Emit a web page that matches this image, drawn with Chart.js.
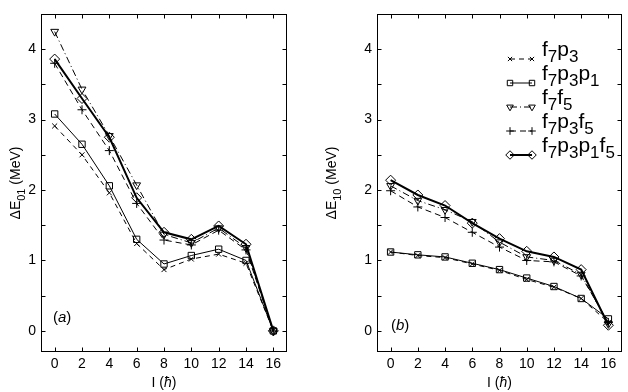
<!DOCTYPE html>
<html lang="en">
<head>
<meta charset="UTF-8">
<title>Delta E vs I</title>
<style>
  body { margin: 0; background: #fff; }
  #wrap { position: relative; width: 628px; height: 392px; }
  #chartA { position: absolute; left: 0; top: 0; }
  #chartB { position: absolute; left: 300px; top: 0; }
</style>
</head>
<body>
<div id="wrap">
  <canvas id="chartA" width="300" height="392"></canvas>
  <canvas id="chartB" width="328" height="392"></canvas>
</div>
<script src="https://cdn.jsdelivr.net/npm/chart.js"></script>
<script>
// spin I (hbar) on the x axis
const spins = [0, 2, 4, 6, 8, 10, 12, 14, 16];
const xTicks = [0, 2, 4, 6, 8, 10, 12, 14, 16];
const yTicks = [0, 0.5, 1, 1.5, 2, 2.5, 3, 3.5, 4];

// legend labels, "_" marks the next char as subscript
const seriesNames = ['f_7p_3', 'f_7p_3p_1', 'f_7f_5', 'f_7p_3f_5', 'f_7p_3p_1f_5'];

// panel (a): Delta E01
const aF7p3     = [2.91, 2.50, 1.96, 1.24, 0.87, 1.02, 1.09, 0.96, 0.00];
const aF7p3p1   = [3.08, 2.65, 2.06, 1.30, 0.95, 1.07, 1.16, 1.00, 0.00];
const aF7f5     = [4.25, 3.43, 2.77, 2.07, 1.37, 1.25, 1.46, 1.18, 0.00];
const aF7p3f5   = [3.80, 3.14, 2.56, 1.81, 1.29, 1.22, 1.43, 1.15, 0.00];
const aF7p3p1f5 = [3.86, 3.30, 2.75, 1.89, 1.40, 1.30, 1.49, 1.23, 0.00];

// panel (b): Delta E10
const bF7p3     = [1.12, 1.07, 1.04, 0.95, 0.86, 0.73, 0.62, 0.46, 0.12];
const bF7p3p1   = [1.12, 1.08, 1.05, 0.96, 0.87, 0.75, 0.63, 0.46, 0.17];
const bF7f5     = [2.06, 1.85, 1.72, 1.55, 1.26, 1.05, 1.00, 0.80, 0.10];
const bF7p3f5   = [1.99, 1.76, 1.61, 1.40, 1.19, 1.00, 0.98, 0.78, 0.12];
const bF7p3p1f5 = [2.14, 1.93, 1.78, 1.53, 1.31, 1.13, 1.05, 0.87, 0.08];

const FONT = "'Liberation Sans', Arial, Helvetica, sans-serif";

// look of each series (same order as seriesNames)
const styles = [
  { pointStyle: 'crossRot', radius: 3.5, rotation: 0,   dash: [5, 4],       width: 1 },
  { pointStyle: 'rect',     radius: 4.5, rotation: 0,   dash: [],           width: 1 },
  { pointStyle: 'triangle', radius: 4.5, rotation: 180, dash: [7, 3, 1, 3], width: 1 },
  { pointStyle: 'cross',    radius: 4.5, rotation: 0,   dash: [6, 4],       width: 1 },
  { pointStyle: 'rectRot',  radius: 5,   rotation: 0,   dash: [],           width: 2 }
];

function makeDatasets(seriesList) {
  return seriesList.map((vals, i) => {
    const s = styles[i];
    return {
      label: seriesNames[i].replace(/_/g, ''),
      data: vals.map((v, k) => ({ x: spins[k], y: v })),
      borderColor: '#000',
      borderWidth: s.width,
      borderDash: s.dash,
      pointStyle: s.pointStyle,
      pointRadius: s.radius,
      pointRotation: s.rotation,
      pointBorderColor: '#000',
      pointBorderWidth: 1,
      pointBackgroundColor: 'rgba(0,0,0,0)',
      tension: 0,
      fill: false
    };
  });
}

// split "f_7p_3" into normal / subscript pieces
function parseSub(str, size, subSize, subDy) {
  const parts = [];
  for (let i = 0; i < str.length; i++) {
    if (str[i] === '_') {
      parts.push({ t: str[i + 1], size: subSize, dy: subDy });
      i++;
    } else {
      parts.push({ t: str[i], size: size, dy: 0 });
    }
  }
  return parts;
}

function richWidth(ctx, parts) {
  let w = 0;
  parts.forEach(p => {
    ctx.font = (p.it ? 'italic ' : '') + p.size + 'px ' + FONT;
    w += ctx.measureText(p.t).width;
  });
  return w;
}

function drawRich(ctx, parts, x, y) {
  let cx = x;
  parts.forEach(p => {
    ctx.font = (p.it ? 'italic ' : '') + p.size + 'px ' + FONT;
    ctx.fillText(p.t, cx, y + (p.dy || 0));
    cx += ctx.measureText(p.t).width;
  });
}

const framePlugin = {
  id: 'frame',
  afterDraw(chart, args, opts) {
    const ctx = chart.ctx;
    const a = chart.chartArea;
    const xs = chart.scales.x, ys = chart.scales.y;
    const L = Math.round(a.left) + 0.5, R = Math.round(a.right) - 0.5;
    const T = Math.round(a.top) + 0.5, B = Math.round(a.bottom) - 0.5;
    ctx.save();
    ctx.strokeStyle = '#000';
    ctx.fillStyle = '#000';
    ctx.lineWidth = 1;
    ctx.setLineDash([]);
    ctx.strokeRect(L, T, R - L, B - T);

    // inward ticks on all four sides
    const tl = 4;
    ctx.beginPath();
    xTicks.forEach(v => {
      const px = Math.round(xs.getPixelForValue(v)) + 0.5;
      ctx.moveTo(px, B); ctx.lineTo(px, B - tl);
      ctx.moveTo(px, T); ctx.lineTo(px, T + tl);
    });
    yTicks.forEach(v => {
      const py = Math.round(ys.getPixelForValue(v)) + 0.5;
      ctx.moveTo(L, py); ctx.lineTo(L + tl, py);
      ctx.moveTo(R, py); ctx.lineTo(R - tl, py);
    });
    ctx.stroke();

    // y title, rotated
    ctx.textBaseline = 'alphabetic';
    const yParts = [
      { t: '\u0394E', size: 14 },
      { t: opts.sub, size: 11, dy: 5 },
      { t: ' (MeV)', size: 14 }
    ];
    const yw = richWidth(ctx, yParts);
    ctx.save();
    ctx.translate(opts.yTitleX, (a.top + a.bottom) / 2);
    ctx.rotate(-Math.PI / 2);
    drawRich(ctx, yParts, -yw / 2, 0);
    ctx.restore();

    // x title
    const xParts = [
      { t: 'I (', size: 14 },
      { t: '\u0127', size: 14, it: true },
      { t: ')', size: 14 }
    ];
    const xw = richWidth(ctx, xParts);
    drawRich(ctx, xParts, (a.left + a.right) / 2 - xw / 2, 387);

    // panel tag (a) / (b)
    const tag = [
      { t: '(', size: 15 },
      { t: opts.tag, size: 15, it: true },
      { t: ')', size: 15 }
    ];
    drawRich(ctx, tag, opts.tagX, opts.tagY);

    // legend with subscripts
    if (opts.legend) {
      const lx1 = opts.legend.x, lx2 = lx1 + 22, tx = lx1 + 32;
      chart.data.datasets.forEach((ds, i) => {
        const s = styles[i];
        const my = opts.legend.y + i * 24;
        ctx.lineWidth = s.width;
        ctx.setLineDash(s.dash);
        ctx.beginPath();
        ctx.moveTo(lx1, my); ctx.lineTo(lx2, my);
        ctx.stroke();
        ctx.setLineDash([]);
        ctx.lineWidth = 1;
        ctx.fillStyle = 'rgba(0,0,0,0)';
        [lx1, lx2].forEach(px => {
          Chart.helpers.drawPoint(ctx, {
            pointStyle: s.pointStyle, radius: s.radius * 0.85, rotation: s.rotation, borderWidth: 1
          }, px, my);
        });
        ctx.fillStyle = '#000';
        drawRich(ctx, parseSub(seriesNames[i], 21, 17, 6), tx, my - 3);
      });
    }
    ctx.restore();
  }
};

function makeChart(id, seriesList, cfg) {
  return new Chart(document.getElementById(id), {
    type: 'line',
    data: { datasets: makeDatasets(seriesList) },
    options: {
      responsive: false,
      animation: false,
      events: [],
      layout: { padding: { left: 0, top: 14, right: cfg.padRight, bottom: 0 } },
      plugins: {
        legend: { display: false },
        tooltip: { enabled: false },
        frame: cfg.frame
      },
      scales: {
        x: {
          type: 'linear', min: -1, max: 17,
          grid: { display: false, drawTicks: false },
          border: { display: false },
          afterBuildTicks: s => { s.ticks = xTicks.map(v => ({ value: v })); },
          afterFit: s => { s.height = 40; },
          ticks: { color: '#000', font: { family: FONT, size: 14 }, padding: 4, maxRotation: 0, autoSkip: false }
        },
        y: {
          type: 'linear', min: -0.3, max: 4.5,
          grid: { display: false, drawTicks: false },
          border: { display: false },
          afterBuildTicks: s => { s.ticks = yTicks.map(v => ({ value: v })); },
          afterFit: s => { s.width = cfg.yWidth; },
          ticks: {
            color: '#000', font: { family: FONT, size: 14 }, padding: 5, autoSkip: false,
            callback: v => (Number.isInteger(v) ? String(v) : '')
          }
        }
      }
    },
    plugins: [framePlugin]
  });
}

makeChart('chartA', [aF7p3, aF7p3p1, aF7f5, aF7p3f5, aF7p3p1f5], {
  padRight: 13, yWidth: 41,
  frame: { sub: '01', yTitleX: 20, tag: 'a', tagX: 53, tagY: 322 }
});

makeChart('chartB', [bF7p3, bF7p3p1, bF7f5, bF7p3f5, bF7p3p1f5], {
  padRight: 6, yWidth: 77,
  frame: { sub: '10', yTitleX: 36, tag: 'b', tagX: 91, tagY: 330, legend: { x: 210, y: 59 } }
});
</script>
</body>
</html>
